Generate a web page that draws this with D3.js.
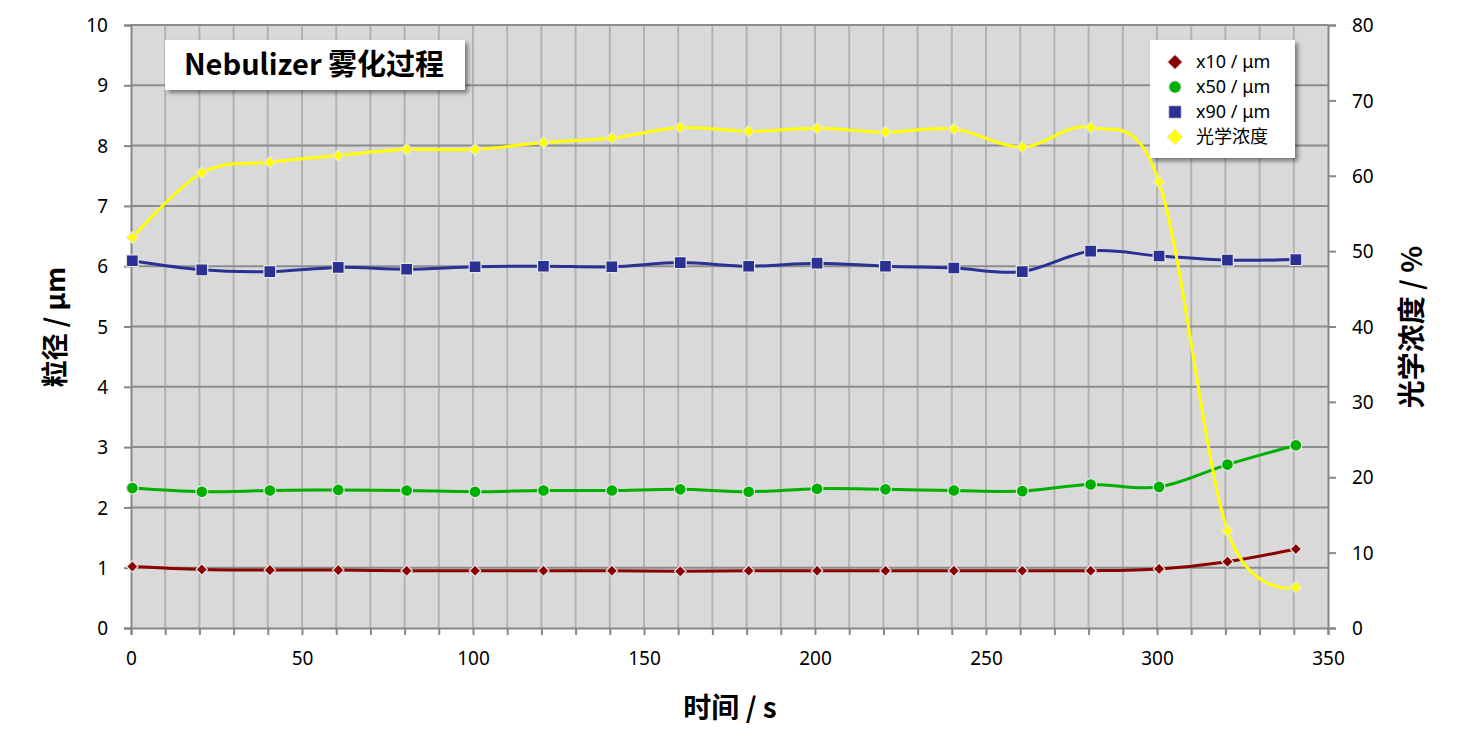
<!DOCTYPE html>
<html><head><meta charset="utf-8">
<script src="https://cdn.jsdelivr.net/npm/d3@7"></script>
<style>body{margin:0;background:#fff}svg{display:block}</style>
</head><body><svg id="c" width="1460" height="756"></svg>
<script>
const times = [0.4, 20.7, 40.6, 60.6, 80.6, 100.6, 120.6, 140.6, 160.6, 180.6, 200.6, 220.6, 240.6, 260.6, 280.6, 300.6, 320.6, 340.6];
const x10 = [1.02, 0.97, 0.96, 0.96, 0.95, 0.95, 0.95, 0.95, 0.94, 0.95, 0.95, 0.95, 0.95, 0.95, 0.95, 0.98, 1.10, 1.31];
const x50 = [2.32, 2.26, 2.28, 2.29, 2.28, 2.26, 2.28, 2.28, 2.30, 2.26, 2.31, 2.30, 2.28, 2.27, 2.38, 2.34, 2.71, 3.03];
const x90 = [6.09, 5.94, 5.91, 5.98, 5.95, 5.99, 6.00, 5.99, 6.06, 6.00, 6.05, 6.00, 5.97, 5.91, 6.25, 6.17, 6.10, 6.11];
const optical = [51.8, 60.4, 61.8, 62.7, 63.5, 63.5, 64.4, 65.0, 66.4, 65.9, 66.3, 65.8, 66.2, 63.8, 66.4, 59.2, 12.9, 5.4];
const xTicks = [0, 50, 100, 150, 200, 250, 300, 350];
const yLeftTicks = [0,1,2,3,4,5,6,7,8,9,10];
const yRightTicks = [0,10,20,30,40,50,60,70,80];
const seriesNames = ["x10 / μm", "x50 / μm", "x90 / μm", "光学浓度"];
const chartTitle = "Nebulizer 雾化过程";

const svg = d3.select("#c");
const L = 131, R = 1328, T = 25, B = 628;
const x = d3.scaleLinear().domain([0, 350]).range([L, R]);
const yL = d3.scaleLinear().domain([0, 10]).range([B, T]);
const yR = d3.scaleLinear().domain([0, 80]).range([B, T]);
const FONT = "'Noto Sans', 'Noto Sans CJK SC', sans-serif";
const CJK = "'Noto Sans CJK SC', 'Noto Sans', sans-serif";

const defs = svg.append("defs");
const f = defs.append("filter").attr("id","sh").attr("x","-10%").attr("y","-10%").attr("width","130%").attr("height","140%");
f.append("feDropShadow").attr("dx",3).attr("dy",3).attr("stdDeviation",2).attr("flood-color","#000").attr("flood-opacity",0.45);

// plot background
svg.append("rect").attr("x",L).attr("y",T).attr("width",R-L).attr("height",B-T).attr("fill","#d9d9d9");

// vertical grid every 10
const vgrid = d3.range(10, 350, 10);
svg.append("g").selectAll("line").data(vgrid).join("line")
  .attr("x1",d=>x(d)).attr("x2",d=>x(d)).attr("y1",T).attr("y2",B)
  .attr("stroke","#b3b3b3").attr("stroke-width",2);
// horizontal grid
svg.append("g").selectAll("line").data(yLeftTicks.filter(d=>d>0)).join("line")
  .attr("x1",L).attr("x2",R).attr("y1",d=>yL(d)).attr("y2",d=>yL(d))
  .attr("stroke","#8c8c8c").attr("stroke-width",2);

// axes
const axisColor = "#868686";
const gx = svg.append("g").attr("transform",`translate(0,${B})`)
  .call(d3.axisBottom(x).tickValues(d3.range(0,351,10)).tickSize(7).tickFormat(d=> xTicks.includes(d)? d : ""));
const gl = svg.append("g").attr("transform",`translate(${L},0)`)
  .call(d3.axisLeft(yL).tickValues(yLeftTicks).tickSize(7).tickPadding(16));
const gr = svg.append("g").attr("transform",`translate(${R},0)`)
  .call(d3.axisRight(yR).tickValues(yRightTicks).tickSize(8).tickPadding(16));
[gx,gl,gr].forEach(g=>{
  g.select(".domain").attr("stroke",axisColor).attr("stroke-width",2);
  g.selectAll(".tick line").attr("stroke",axisColor).attr("stroke-width",2);
  g.selectAll(".tick text").attr("fill","#000").style("font-family",FONT).style("font-size","19px");
});
gx.selectAll(".tick text").attr("dy","1.4em");
gl.selectAll(".tick text").attr("dy","0.35em");
gr.selectAll(".tick text").attr("dy","0.35em");

// marker shapes
const diamond = (size) => {
  const h = Math.sqrt(size/2);
  return `M0,${-h}L${h},0L0,${h}L${-h},0Z`;
};
const circle = (size) => d3.symbol().type(d3.symbolCircle).size(size)();
const square = (size) => d3.symbol().type(d3.symbolSquare).size(size)();
const curve = d3.curveCardinal.tension(0);
const series = [
  {vals:x10, y:yL, color:"#8b0000", path:diamond(66), lpath:diamond(112)},
  {vals:x50, y:yL, color:"#00b000", path:circle(110), lpath:circle(120)},
  {vals:x90, y:yL, color:"#2a3192", path:square(140), lpath:square(160)},
  {vals:optical, y:yR, color:"#ffff00", path:diamond(70), lpath:diamond(120)},
];
series.forEach(s=>{
  const line = d3.line().x((d,i)=>x(times[i])).y(d=>s.y(d)).curve(curve);
  svg.append("path").attr("d",line(s.vals)).attr("fill","none").attr("stroke",s.color).attr("stroke-width",3);
});
series.forEach(s=>{
  svg.append("g").selectAll("path").data(s.vals).join("path")
    .attr("transform",(d,i)=>`translate(${x(times[i])},${s.y(d)})`)
    .attr("d", s.path)
    .attr("fill",s.color).attr("stroke","#e6e6e6").attr("stroke-width",1.2);
});

// title box
svg.append("rect").attr("x",165).attr("y",40).attr("width",300).attr("height",50).attr("fill","#fff").attr("filter","url(#sh)");
svg.append("text").attr("x",314).attr("y",75).attr("text-anchor","middle")
  .style("font-family",CJK).style("font-weight","bold").style("font-size","29px").text(chartTitle);

// legend
svg.append("rect").attr("x",1150).attr("y",40).attr("width",145).attr("height",118).attr("fill","#fff").attr("filter","url(#sh)");
const ly = [62, 87, 112, 137];
series.forEach((s,i)=>{
  svg.append("path").attr("transform",`translate(1175,${ly[i]})`)
    .attr("d", s.lpath)
    .attr("fill",s.color).attr("stroke","#e6e6e6").attr("stroke-width",1);
  svg.append("text").attr("x",1196).attr("y",ly[i]).attr("dy","0.35em")
    .style("font-family",i===3?CJK:FONT).style("font-size","18px").text(seriesNames[i]);
});

// axis titles
svg.append("text").attr("transform","translate(65,327) rotate(-90)").attr("text-anchor","middle")
  .style("font-family",CJK).style("font-weight","bold").style("font-size","27px").text("粒径 / μm");
svg.append("text").attr("transform","translate(1422,327) rotate(-90)").attr("text-anchor","middle")
  .style("font-family",CJK).style("font-weight","bold").style("font-size","28px").text("光学浓度 / %");
svg.append("text").attr("x",730).attr("y",718).attr("text-anchor","middle")
  .style("font-family",CJK).style("font-weight","bold").style("font-size","28px").text("时间 / s");
</script></body></html>
